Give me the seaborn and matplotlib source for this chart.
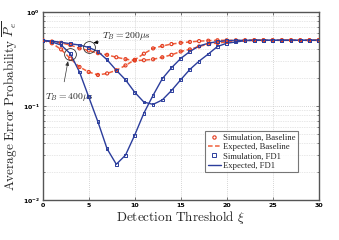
import numpy as np
import pandas as pd
import matplotlib
matplotlib.use("Agg")
import matplotlib.pyplot as plt
import seaborn as sns
from matplotlib.ticker import LogLocator, FixedLocator, NullFormatter
from matplotlib.lines import Line2D

# ---- data ----
xi = list(range(0, 31))
base_200 = [0.5, 0.485, 0.47, 0.445, 0.41, 0.39, 0.365, 0.35, 0.33, 0.315, 0.305,
            0.307, 0.314, 0.33, 0.35, 0.38, 0.40, 0.43, 0.455, 0.468, 0.48,
            0.49, 0.497, 0.5, 0.5, 0.5, 0.5, 0.5, 0.5, 0.5, 0.5]
base_400 = [0.5, 0.465, 0.40, 0.32, 0.26, 0.23, 0.214, 0.222, 0.24, 0.27, 0.31,
            0.36, 0.41, 0.435, 0.456, 0.47, 0.48, 0.49, 0.495, 0.5, 0.5,
            0.5, 0.5, 0.5, 0.5, 0.5, 0.5, 0.5, 0.5, 0.5, 0.5]
fd1_200 = [0.5, 0.49, 0.476, 0.46, 0.445, 0.42, 0.38, 0.31, 0.24, 0.19, 0.14,
           0.11, 0.104, 0.116, 0.146, 0.19, 0.245, 0.30, 0.357, 0.43, 0.465,
           0.48, 0.495, 0.5, 0.5, 0.5, 0.5, 0.5, 0.5, 0.5, 0.5]
fd1_400 = [0.5, 0.48, 0.445, 0.36, 0.23, 0.125, 0.068, 0.035, 0.024, 0.030, 0.049,
           0.084, 0.13, 0.195, 0.255, 0.32, 0.38, 0.435, 0.465, 0.485, 0.495,
           0.5, 0.5, 0.5, 0.5, 0.5, 0.5, 0.5, 0.5, 0.5, 0.5]
x_ticks = [0, 5, 10, 15, 20, 25, 30]
labels = ["Simulation, Baseline", "Expected, Baseline", "Simulation, FD1", "Expected, FD1"]

RED_LINE = "#f0603c"
RED_MK = "#e23a1e"
BLUE = "#2b3d9c"

sns.set_theme(style="ticks")
plt.rcParams["mathtext.fontset"] = "cm"
plt.rcParams["font.family"] = ["DejaVu Sans"]

fig = plt.figure(figsize=(3.39, 2.40), dpi=100)
ax = fig.add_axes([0.126, 0.1667, 0.814, 0.7833])

df = pd.DataFrame({"xi": xi, "b200": base_200, "b400": base_400,
                   "f200": fd1_200, "f400": fd1_400})

for col in ("b200", "b400"):
    sns.lineplot(data=df, x="xi", y=col, ax=ax, color=RED_LINE, lw=1.1,
                 linestyle=(0, (3.0, 1.6)), legend=False)
for col in ("f200", "f400"):
    sns.lineplot(data=df, x="xi", y=col, ax=ax, color=BLUE, lw=1.0, legend=False)
for col in ("b200", "b400"):
    sns.scatterplot(data=df, x="xi", y=col, ax=ax, marker="o", s=5,
                    facecolor="none", edgecolor=RED_MK, linewidth=0.8,
                    legend=False, zorder=4)
for col in ("f200", "f400"):
    sns.scatterplot(data=df, x="xi", y=col, ax=ax, marker="s", s=4,
                    facecolor="none", edgecolor=BLUE, linewidth=0.7,
                    legend=False, zorder=4)

ax.set_yscale("log")
ax.set_xlim(0, 30)
ax.set_ylim(1e-2, 1)
ax.xaxis.set_major_locator(FixedLocator(x_ticks))
ax.yaxis.set_major_locator(LogLocator(base=10, numticks=5))
ax.yaxis.set_minor_locator(LogLocator(base=10, subs=np.arange(2, 10), numticks=20))
ax.yaxis.set_minor_formatter(NullFormatter())
ax.grid(True, which="major", color="#c8c8c8", ls=(0, (1, 1.5)), lw=0.6)
ax.grid(True, which="minor", axis="y", color="#d0d0d0", ls=(0, (1, 1.5)), lw=0.5)
ax.tick_params(which="both", direction="in", top=True, right=True, length=2.5,
               width=0.5, colors="#444444", labelcolor="black", labelsize=4.5, pad=2)
ax.tick_params(which="minor", length=1.5)
for lab in ax.get_xticklabels() + ax.get_yticklabels():
    lab.set_fontweight("bold")
for s in ax.spines.values():
    s.set_color("#555555")
    s.set_linewidth(1.0)

ax.set_xlabel(r"$\mathrm{Detection\ Threshold}\ \xi$", fontsize=9.5, labelpad=1)
ax.set_ylabel(r"$\mathrm{Average\ Error\ Probability}\ \overline{P_e}$", fontsize=9.5, labelpad=2)

# annotations
c200 = (xi[5], fd1_200[5])
c400 = (xi[3], fd1_400[3])
for c in (c200, c400):
    ax.plot([c[0]], [c[1]], marker="o", ms=8.5, mfc="none", mec="#333333", mew=0.6, zorder=5)
ax.annotate(r"$T_B = 200\mu s$", xy=(5.5, 0.468), xytext=(6.45, 0.55),
            fontsize=7, va="center", ha="left",
            arrowprops=dict(arrowstyle="-|>,head_length=0.35,head_width=0.15",
                            color="black", lw=0.5, shrinkA=0, shrinkB=0))
ax.annotate(r"$T_B = 400\mu s$", xy=(2.75, 0.30), xytext=(0.3, 0.126),
            fontsize=7, va="center", ha="left",
            arrowprops=dict(arrowstyle="-|>,head_length=0.35,head_width=0.15",
                            color="#333333", lw=0.5, shrinkA=4, shrinkB=0,
                            relpos=(0.35, 1.0)))

# legend
h = [Line2D([], [], ls="none", marker="o", ms=2.4, mfc="none", mec=RED_MK, mew=0.8),
     Line2D([], [], color=RED_LINE, lw=1.1, ls=(0, (3.0, 1.6))),
     Line2D([], [], ls="none", marker="s", ms=2.2, mfc="none", mec=BLUE, mew=0.7),
     Line2D([], [], color=BLUE, lw=1.0)]
leg = ax.legend(h, labels, loc="lower right", bbox_to_anchor=(0.925, 0.147),
                prop={"family": "Liberation Serif", "size": 6.2}, handlelength=1.5,
                handletextpad=0.25, borderpad=0.3, labelspacing=0.15,
                frameon=True, fancybox=False, edgecolor="#555555",
                borderaxespad=0.0)
leg.get_frame().set_linewidth(0.8)

fig.savefig("out.png", dpi=100)
